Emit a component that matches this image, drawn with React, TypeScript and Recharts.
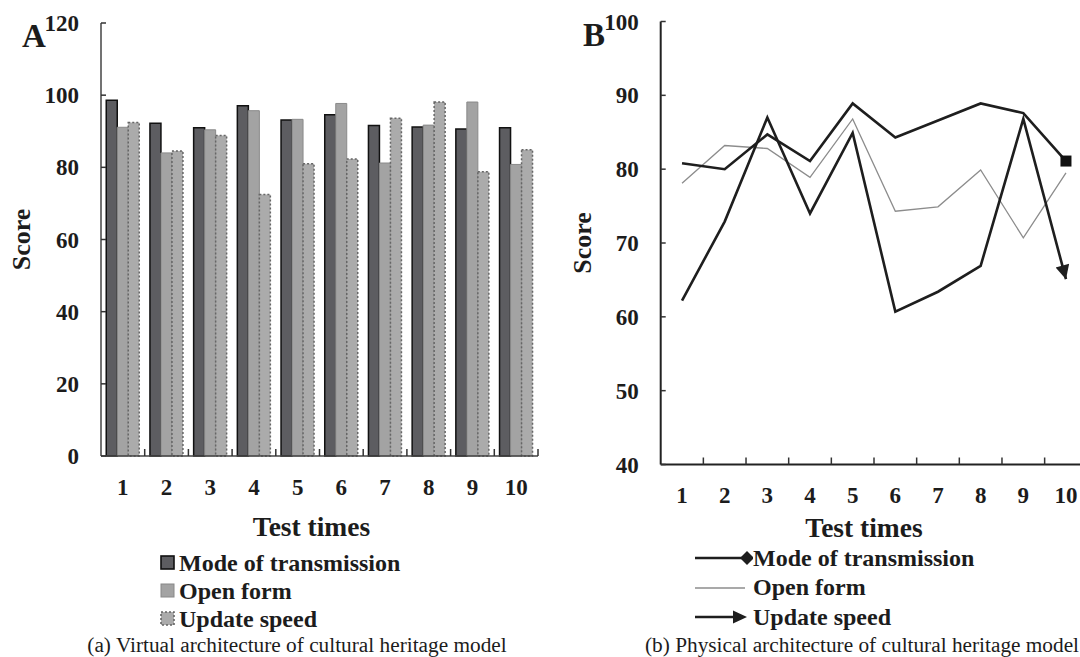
import React from 'react';
import { BarChart, Bar, LineChart, Line, XAxis, YAxis, Legend } from 'recharts';

// ---------- data ----------
const testTimes = ['1', '2', '3', '4', '5', '6', '7', '8', '9', '10'];
const seriesNames = ['Mode of transmission', 'Open form', 'Update speed'];

const virtualMode = [98.6, 92.2, 91.0, 97.1, 93.1, 94.6, 91.6, 91.2, 90.6, 91.0];
const virtualOpen = [91.1, 84.0, 90.4, 95.7, 93.3, 97.7, 81.2, 91.7, 98.1, 80.8];
const virtualUpdate = [92.4, 84.5, 88.8, 72.5, 81.0, 82.3, 93.6, 98.1, 78.8, 84.9];

const physicalMode = [80.8, 80.0, 84.7, 81.1, 88.9, 84.3, 86.6, 88.9, 87.6, 81.1];
const physicalOpen = [78.1, 83.2, 82.8, 78.9, 86.8, 74.3, 74.9, 79.9, 70.7, 79.5];
const physicalUpdate = [62.2, 72.9, 87.0, 74.0, 84.9, 60.7, 63.4, 66.9, 86.8, 65.1];

const virtualTicks = [0, 20, 40, 60, 80, 100, 120];
const physicalTicks = [40, 50, 60, 70, 80, 90, 100];

const virtualData = testTimes.map((t, i) => ({
  time: t,
  mode: virtualMode[i],
  open: virtualOpen[i],
  update: virtualUpdate[i],
}));
const physicalData = testTimes.map((t, i) => ({
  time: t,
  mode: physicalMode[i],
  open: physicalOpen[i],
  update: physicalUpdate[i],
}));

// ---------- layout ----------
const SERIF = "'Liberation Serif', 'Times New Roman', Times, serif";
const TXT = '#1c1c1c';

const A_W = 540;
const A_H = 657;
const A_MARGIN = { top: 23, right: 2, bottom: 111, left: 0 };
const A_YW = 101;
const A_XH = 90;
const A_BAND = (A_W - A_MARGIN.left - A_MARGIN.right - A_YW) / testTimes.length;

const B_LEFT = 540;
const B_W = 550;
const B_H = 657;
const B_MARGIN = { top: 21.5, right: 2.7, bottom: 110.5, left: 0 };
const B_YW = 120.7;
const B_XH = 82;
const B_BAND = (B_W - B_MARGIN.left - B_MARGIN.right - B_YW) / testTimes.length;

const makeYTick = (gap: number) => (props: any) => {
  const { x, y, payload } = props;
  return (
    <g>
      <line x1={x} x2={x + 5} y1={y} y2={y} stroke="#333" strokeWidth={1.5} />
      <text
        x={x - gap}
        y={y}
        dy="0.35em"
        textAnchor="end"
        fontFamily={SERIF}
        fontWeight="bold"
        fontSize={23}
        fill={TXT}
      >
        {payload.value}
      </text>
    </g>
  );
};

const makeXTick = (band: number, labelDy: number) => (props: any) => {
  const { x, y, payload } = props;
  return (
    <g>
      <line x1={x + band / 2} x2={x + band / 2} y1={y} y2={y - 7} stroke="#333" strokeWidth={1.5} />
      <text
        x={x}
        y={y + labelDy}
        dy="0.35em"
        textAnchor="middle"
        fontFamily={SERIF}
        fontWeight="bold"
        fontSize={23}
        fill={TXT}
      >
        {payload.value}
      </text>
    </g>
  );
};

const barFills = ['#5d5d61', '#a3a3a3', '#ababab'];

const LegendA = () => (
  <div style={{ fontFamily: SERIF, fontWeight: 'bold', fontSize: 24, color: TXT }}>
    {seriesNames.map((name, i) => (
      <div key={name} style={{ display: 'flex', alignItems: 'center', height: 28, whiteSpace: 'nowrap' }}>
        <svg width={18} height={16} style={{ display: 'block' }}>
          {i === 0 && <rect x={1} y={1} width={13} height={13} fill={barFills[0]} stroke="#111" strokeWidth={1.6} />}
          {i === 1 && <rect x={1} y={1} width={13} height={13} fill={barFills[1]} stroke="#888" strokeWidth={1} />}
          {i === 2 && (
            <rect x={1} y={1} width={13} height={13} fill={barFills[2]} stroke="#666" strokeWidth={1.6} strokeDasharray="2 2" />
          )}
        </svg>
        <span style={{ lineHeight: '28px', marginLeft: 1 }}>{name}</span>
      </div>
    ))}
  </div>
);

const LegendB = () => (
  <div style={{ fontFamily: SERIF, fontWeight: 'bold', fontSize: 24, color: TXT }}>
    {seriesNames.map((name, i) => (
      <div key={name} style={{ display: 'flex', alignItems: 'center', height: 29.5, whiteSpace: 'nowrap' }}>
        <svg width={58} height={16} style={{ display: 'block' }}>
          {i === 0 && (
            <g>
              <line x1={0} x2={50} y1={8} y2={8} stroke="#1e1e1e" strokeWidth={2.6} />
              <polygon points="45,8 52,1 59,8 52,15" fill="#1e1e1e" />
            </g>
          )}
          {i === 1 && <line x1={0} x2={50} y1={8} y2={8} stroke="#8c8c8c" strokeWidth={1.3} />}
          {i === 2 && (
            <g>
              <line x1={0} x2={40} y1={8} y2={8} stroke="#1e1e1e" strokeWidth={2.6} />
              <polygon points="38,1.5 52,8 38,14.5" fill="#1e1e1e" />
            </g>
          )}
        </svg>
        <span style={{ lineHeight: '29.5px', marginLeft: 0 }}>{name}</span>
      </div>
    ))}
  </div>
);

const SquareEnd = (props: any) => {
  const { cx, cy, index } = props;
  if (index !== testTimes.length - 1) return <g key={`sq-${index}`} />;
  return <rect key={`sq-${index}`} x={cx - 5.5} y={cy - 5.5} width={11} height={11} fill="#111" />;
};

export default function App() {
  return (
    <div
      style={{
        position: 'absolute',
        left: 0,
        top: 0,
        width: 1080,
        height: 657,
        overflow: 'hidden',
        background: '#fff',
        fontFamily: SERIF,
      }}
    >
      <svg width={0} height={0} style={{ position: 'absolute' }}>
        <defs>
          <marker
            id="arrowEnd"
            viewBox="0 0 10 10"
            refX={10}
            refY={5}
            markerUnits="userSpaceOnUse"
            markerWidth={18}
            markerHeight={14}
            orient="auto"
          >
            <path d="M0,0 L10,5 L0,10 z" fill="#1e1e1e" />
          </marker>
        </defs>
      </svg>

      {/* Panel A */}
      <div style={{ position: 'absolute', left: 0, top: 0 }}>
        <BarChart
          width={A_W}
          height={A_H}
          data={virtualData}
          margin={A_MARGIN}
          barCategoryGap="12%"
          barGap={0}
        >
          <XAxis
            dataKey="time"
            height={A_XH}
            tickLine={false}
            tickSize={0}
            tickMargin={0}
            interval={0}
            axisLine={{ stroke: '#444', strokeWidth: 1.5 }}
            tick={makeXTick(A_BAND, 31)}
            label={{
              value: 'Test times',
              position: 'insideBottom',
              offset: 10,
              dx: -8,
              style: { fontFamily: SERIF, fontWeight: 'bold', fontSize: 27.5, fill: TXT },
            }}
          />
          <YAxis
            width={A_YW}
            domain={[0, 120]}
            ticks={virtualTicks}
            interval={0}
            tickLine={false}
            tickSize={0}
            tickMargin={0}
            axisLine={{ stroke: '#444', strokeWidth: 1.5 }}
            tick={makeYTick(22)}
            label={{
              value: 'Score',
              angle: -90,
              position: 'insideLeft',
              offset: 20.5,
              style: { textAnchor: 'middle', fontFamily: SERIF, fontWeight: 'bold', fontSize: 26, fill: TXT },
            }}
          />
          <Bar dataKey="mode" name={seriesNames[0]} fill={barFills[0]} stroke="#111" strokeWidth={1.5} isAnimationActive={false} />
          <Bar dataKey="open" name={seriesNames[1]} fill={barFills[1]} stroke="#8a8a8a" strokeWidth={1} isAnimationActive={false} />
          <Bar
            dataKey="update"
            name={seriesNames[2]}
            fill={barFills[2]}
            stroke="#666"
            strokeWidth={1.5}
            strokeDasharray="2 2"
            isAnimationActive={false}
          />
          <Legend
            layout="vertical"
            align="center"
            verticalAlign="middle"
            content={() => <LegendA />}
            wrapperStyle={{ left: 160, top: 549, width: 'auto', height: 'auto' }}
          />
        </BarChart>
      </div>

      {/* Panel B */}
      <div style={{ position: 'absolute', left: B_LEFT, top: 0 }}>
        <LineChart width={B_W} height={B_H} data={physicalData} margin={B_MARGIN}>
          <XAxis
            dataKey="time"
            height={B_XH}
            padding={{ left: B_BAND / 2, right: B_BAND / 2 }}
            tickLine={false}
            tickSize={0}
            tickMargin={0}
            interval={0}
            axisLine={{ stroke: '#222', strokeWidth: 2 }}
            tick={makeXTick(B_BAND, 30)}
            label={{
              value: 'Test times',
              position: 'insideBottom',
              offset: 10,
              dx: -10,
              style: { fontFamily: SERIF, fontWeight: 'bold', fontSize: 27.5, fill: TXT },
            }}
          />
          <YAxis
            width={B_YW}
            domain={[40, 100]}
            ticks={physicalTicks}
            interval={0}
            tickLine={false}
            tickSize={0}
            tickMargin={0}
            axisLine={{ stroke: '#222', strokeWidth: 2 }}
            tick={makeYTick(22)}
            label={{
              value: 'Score',
              angle: -90,
              position: 'insideLeft',
              offset: 41.5,
              style: { textAnchor: 'middle', fontFamily: SERIF, fontWeight: 'bold', fontSize: 26, fill: TXT },
            }}
          />
          <Line
            type="linear"
            dataKey="open"
            name={seriesNames[1]}
            stroke="#8c8c8c"
            strokeWidth={1.3}
            dot={false}
            isAnimationActive={false}
          />
          <Line
            type="linear"
            dataKey="mode"
            name={seriesNames[0]}
            stroke="#1e1e1e"
            strokeWidth={2.6}
            dot={SquareEnd}
            activeDot={false}
            isAnimationActive={false}
          />
          <Line
            type="linear"
            dataKey="update"
            name={seriesNames[2]}
            stroke="#1e1e1e"
            strokeWidth={2.6}
            dot={false}
            markerEnd="url(#arrowEnd)"
            isAnimationActive={false}
          />
          <Legend
            layout="vertical"
            align="center"
            verticalAlign="middle"
            content={() => <LegendB />}
            wrapperStyle={{ left: 155, top: 543.5, width: 'auto', height: 'auto' }}
          />
        </LineChart>
      </div>

      {/* Panel letters and captions */}
      <svg width={1080} height={657} style={{ position: 'absolute', left: 0, top: 0, pointerEvents: 'none' }}>
        <text x={22} y={47} fontFamily={SERIF} fontWeight="bold" fontSize={33} fill={TXT}>
          A
        </text>
        <text x={583} y={46} fontFamily={SERIF} fontWeight="bold" fontSize={33} fill={TXT}>
          B
        </text>
        <text x={297} y={652} textAnchor="middle" fontFamily={SERIF} fontSize={21.3} fill={TXT}>
          (a) Virtual architecture of cultural heritage model
        </text>
        <text x={645} y={652} fontFamily={SERIF} fontSize={21.3} fill={TXT}>
          (b) Physical architecture of cultural heritage model
        </text>
      </svg>
    </div>
  );
}
